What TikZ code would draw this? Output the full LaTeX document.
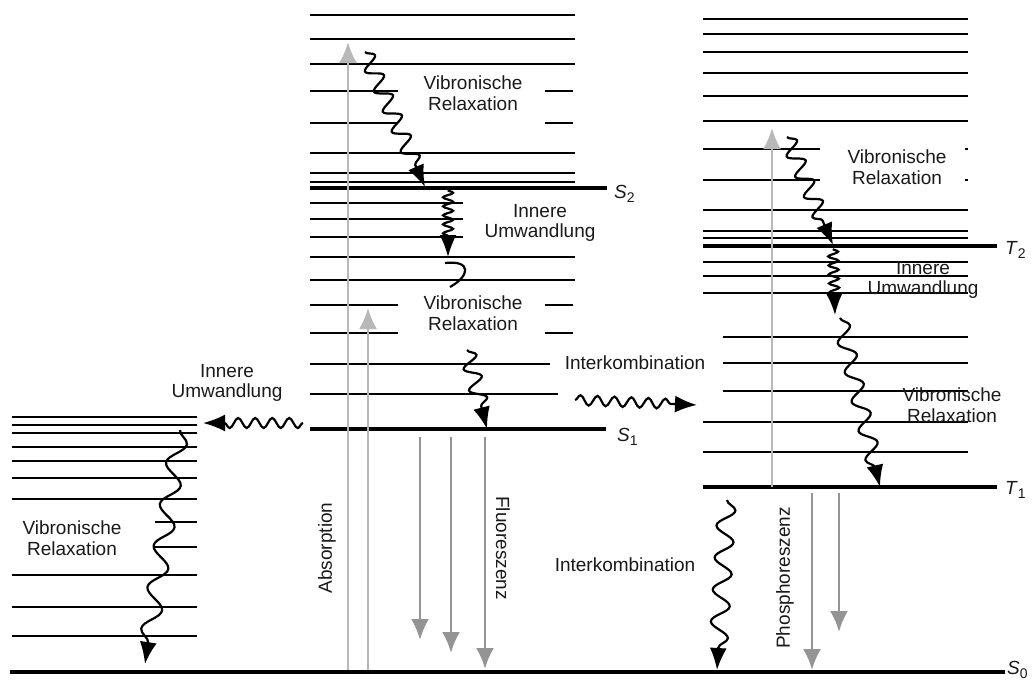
\documentclass[tikz,border=0pt]{standalone}
\usepackage{fontspec}
\setmainfont{Liberation Sans}
\usetikzlibrary{arrows.meta, decorations.pathmorphing}

\newcommand{\lvlname}[2]{\textit{#1}\raisebox{-0.45ex}{\fontsize{14}{14}\selectfont #2}}

\begin{document}
\begin{tikzpicture}[x=1pt, y=-1pt]
    \tikzstyle{every node}=[font=\fontsize{19}{20.5}\selectfont, text=black!90, align=center, inner sep=0pt]
    \tikzstyle{vib}=[line width=1.4pt]
    \tikzstyle{elec}=[line width=4pt]
    \tikzstyle{photon}=[-{Latex[length=21pt,width=18pt]}, line width=2.6pt, draw=black!42]
    \tikzstyle{pump}=[photon, draw=black!28]
    \tikzstyle{relax}=[-{Latex[length=22pt,width=17pt]}, line width=2.2pt, decorate,
                       decoration={snake, amplitude=8pt, segment length=22pt, post length=18pt}]
    \tikzstyle{conv}=[relax, decoration={amplitude=5pt, segment length=9pt}]
    \tikzstyle{isc}=[relax, decoration={amplitude=5pt, segment length=17pt, post length=20pt}]

    \useasboundingbox (0,0) rectangle (1033,680);

    % singlet manifold
    \foreach \y in {15,39,64,153,173,182,257,280}
        \draw[vib] (310,\y) -- (575,\y);
    \foreach \y in {91,123,305,333}
        {\draw[vib] (310,\y) -- (398,\y); \draw[vib] (545,\y) -- (573,\y);}
    \foreach \y in {203,219,237}
        \draw[vib] (310,\y) -- (463,\y);
    \draw[vib] (310,364) -- (550,364);
    \draw[vib] (310,394) -- (558,394);
    \draw[elec] (310,188) -- (607,188);
    \draw[elec] (310,429) -- (606,429);

    % triplet manifold
    \foreach \y in {19,34,52,73,96,121,210,231,238,262,276,293,422,452}
        \draw[vib] (703,\y) -- (968,\y);
    \foreach \y in {149,180}
        {\draw[vib] (703,\y) -- (820,\y); \draw[vib] (965,\y) -- (968,\y);}
    \foreach \y in {337,363,391}
        \draw[vib] (723,\y) -- (968,\y);
    \draw[elec] (703,246) -- (997,246);
    \draw[elec] (703,487) -- (997,487);

    % hot ground state
    \foreach \y in {417,425,433,447,461,478,499,575,607,636}
        \draw[vib] (12,\y) -- (197,\y);
    \foreach \y in {522,547}
        \draw[vib] (155,\y) -- (197,\y);
    \draw[elec] (10,672) -- (1005,672);

    % level names
    \node[anchor=west] (S2) at (614,194) {\lvlname{S}{2}};
    \node[anchor=west] (S1) at (617,437) {\lvlname{S}{1}};
    \node[anchor=west] (T2) at (1005,250) {\lvlname{T}{2}};
    \node[anchor=west] (T1) at (1005,490) {\lvlname{T}{1}};
    \node[anchor=west] (S0) at (1007,670) {\lvlname{S}{0}};

    % process labels
    \node (vrS2) at (473,93)  {Vibronische\\Relaxation};
    \node (icS)  at (540,223) {Innere\\Umwandlung};
    \node (vrS1) at (473,313) {Vibronische\\Relaxation};
    \node (iscS) at (635,363) {Interkombination};
    \node (icL)  at (227,383) {Innere\\Umwandlung};
    \node (vrL)  at (72,538)  {Vibronische\\Relaxation};
    \node (vrT2) at (897,167) {Vibronische\\Relaxation};
    \node (icT)  at (923,280) {Innere\\Umwandlung};
    \node (vrT1) at (952,405) {Vibronische\\Relaxation};
    \node (iscT) at (625,565) {Interkombination};
    \node[rotate=90]  (absLbl) at (327,548) {Absorption};
    \node[rotate=-90] (fluLbl) at (503,548) {Fluoreszenz};
    \node[rotate=90]  (phoLbl) at (785,578) {Phosphoreszenz};

    % end points
    \coordinate (abs1 a) at (348,670);  \coordinate (abs1 b) at (348,42);
    \coordinate (abs2 a) at (368,670);  \coordinate (abs2 b) at (368,308);
    \coordinate (abs3 a) at (772,487);  \coordinate (abs3 b) at (772,128);
    \coordinate (flu1 a) at (420,437);  \coordinate (flu1 b) at (420,640);
    \coordinate (flu2 a) at (451,437);  \coordinate (flu2 b) at (451,653);
    \coordinate (flu3 a) at (485,437);  \coordinate (flu3 b) at (485,669);
    \coordinate (pho1 a) at (812,493);  \coordinate (pho1 b) at (812,670);
    \coordinate (pho2 a) at (839,493);  \coordinate (pho2 b) at (839,632);
    \coordinate (vr1 a) at (365,52);    \coordinate (vr1 b) at (425,187);
    \coordinate (ic1 a) at (448,190);   \coordinate (ic1 b) at (448,257);
    \coordinate (hook a) at (445,263);  \coordinate (hook b) at (450,287);
    \coordinate (vr2 a) at (467,350);   \coordinate (vr2 b) at (487,429);
    \coordinate (ic2 a) at (303,423);   \coordinate (ic2 b) at (203,423);
    \coordinate (vr3 a) at (180,430);   \coordinate (vr3 b) at (145,664);
    \coordinate (isc1 a) at (575,400);  \coordinate (isc1 b) at (697,405);
    \coordinate (vr4 a) at (787,137);   \coordinate (vr4 b) at (833,245);
    \coordinate (ic3 a) at (833,249);   \coordinate (ic3 b) at (835,315);
    \coordinate (vr5 a) at (840,318);   \coordinate (vr5 b) at (880,487);
    \coordinate (isc2 a) at (727,500);  \coordinate (isc2 b) at (717,670);

    % radiative transitions
    \draw[pump]   (abs1 a) -- (abs1 b);
    \draw[pump]   (abs2 a) -- (abs2 b);
    \draw[pump]   (abs3 a) -- (abs3 b);
    \draw[photon] (flu1 a) -- (flu1 b);
    \draw[photon] (flu2 a) -- (flu2 b);
    \draw[photon] (flu3 a) -- (flu3 b);
    \draw[photon] (pho1 a) -- (pho1 b);
    \draw[photon] (pho2 a) -- (pho2 b);

    % radiationless transitions
    \draw[relax] (vr1 a) -- (vr1 b);
    \draw[conv]  (ic1 a) -- (ic1 b);
    \draw[line width=2.2pt] (hook a) .. controls (472,260) and (470,276) .. (hook b);
    \draw[relax] (vr2 a) -- (vr2 b);
    \draw[isc]   (ic2 a) -- (ic2 b);
    \draw[relax, decoration={amplitude=9pt, segment length=42pt, post length=20pt}] (vr3 a) -- (vr3 b);
    \draw[isc]   (isc1 a) -- (isc1 b);
    \draw[relax] (vr4 a) -- (vr4 b);
    \draw[conv]  (ic3 a) -- (ic3 b);
    \draw[relax, decoration={amplitude=8pt, segment length=30pt}] (vr5 a) -- (vr5 b);
    \draw[relax, decoration={amplitude=9pt, segment length=32pt, post length=20pt}] (isc2 a) -- (isc2 b);
\end{tikzpicture}
\end{document}
